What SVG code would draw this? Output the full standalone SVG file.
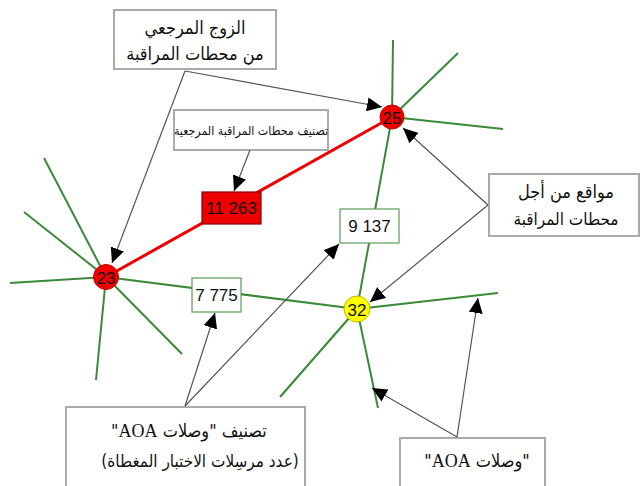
<svg xmlns="http://www.w3.org/2000/svg" width="641" height="486" viewBox="0 0 641 486">
<style>
.g{stroke:#3a8a3a;stroke-width:2;fill:none}
.r{stroke:#ee0000;stroke-width:3;fill:none}
.a{stroke:#555;stroke-width:1.2;fill:none;marker-end:url(#ah)}
.tb{fill:#fff;stroke:#aaa;stroke-width:2}
.nb{fill:#fff;stroke:#5a9a5a;stroke-width:1.2}
.ar{font-family:"DejaVu Sans Condensed","DejaVu Sans",serif;fill:#111;text-anchor:middle}
.lat{font-family:"Liberation Serif",serif}
.num{font-family:"Liberation Sans",Arial,sans-serif;fill:#111;text-anchor:middle}
</style>
<defs>
<marker id="ah" markerUnits="userSpaceOnUse" markerWidth="16" markerHeight="14" refX="15" refY="7" orient="auto">
<path d="M0,0 L15,7 L0,14 z" fill="#000"/>
</marker>
</defs>
<rect width="641" height="486" fill="#fff"/>
<g id="connectors">
<line class="g" x1="106" y1="277" x2="44" y2="158"/>
<line class="g" x1="106" y1="277" x2="24" y2="212"/>
<line class="g" x1="106" y1="277" x2="10" y2="283"/>
<line class="g" x1="106" y1="277" x2="96" y2="380"/>
<line class="g" x1="106" y1="277" x2="182" y2="354"/>
<line class="g" x1="106" y1="277" x2="357" y2="309"/>
<line class="g" x1="392" y1="117" x2="393" y2="40"/>
<line class="g" x1="392" y1="117" x2="458" y2="53"/>
<line class="g" x1="392" y1="117" x2="503" y2="129"/>
<line class="g" x1="392" y1="117" x2="357" y2="309"/>
<line class="g" x1="357" y1="309" x2="498" y2="293"/>
<line class="g" x1="357" y1="309" x2="280" y2="397"/>
<line class="g" x1="357" y1="309" x2="378" y2="408"/>
<line class="r" x1="106" y1="277" x2="392" y2="117"/>
</g>
<g id="n23"><circle cx="106" cy="277" r="12.5" fill="#ee0000" stroke="#cc0000"/><text class="num" x="106" y="283.5" font-size="17">23</text></g>
<g id="n25"><circle cx="392" cy="117" r="12" fill="#ee0000" stroke="#cc0000"/><text class="num" x="392" y="123.5" font-size="17">25</text></g>
<g id="n32"><circle cx="357" cy="309" r="13" fill="#ffff00" stroke="#bbbb00"/><text class="num" x="357" y="315.5" font-size="17">32</text></g>
<g id="b11263"><rect x="202" y="192" width="59" height="32" fill="#ee0000" stroke="#880000" stroke-width="1.2"/><text class="num" x="231.5" y="214" font-size="17">11 263</text></g>
<g id="b9137"><rect class="nb" x="340" y="209" width="59" height="34"/><text class="num" x="369.5" y="232" font-size="17">9 137</text></g>
<g id="b7775"><rect class="nb" x="192" y="278" width="49" height="34"/><text class="num" x="216.5" y="301" font-size="17">7 775</text></g>
<g id="lbl-pair"><rect class="tb" x="114" y="10" width="162" height="59"/>
<text class="ar" x="195" y="34" font-size="18" direction="rtl">الزوج المرجعي</text>
<text class="ar" x="195" y="60" font-size="18" direction="rtl">من محطات المراقبة</text></g>
<g id="lbl-class"><rect class="tb" x="174" y="110" width="154" height="40"/>
<text class="ar" x="251" y="135" font-size="12.3" direction="rtl">تصنيف محطات المراقبة المرجعية</text></g>
<g id="lbl-sites"><rect class="tb" x="489" y="174" width="150" height="62"/>
<text class="ar" x="566" y="198" font-size="18" direction="rtl">مواقع من أجل</text>
<text class="ar" x="566" y="225" font-size="17" direction="rtl">محطات المراقبة</text></g>
<g id="lbl-aoaclass"><rect class="tb" x="66" y="407" width="239" height="90"/>
<text class="ar" x="189" y="437" font-size="18" direction="rtl">تصنيف "وصلات <tspan class="lat">AOA</tspan>"</text>
<text class="ar" x="200" y="467" font-size="17" direction="rtl">(عدد مرسِلات الاختبار المغطاة)</text></g>
<g id="lbl-aoa"><rect class="tb" x="400" y="438" width="145" height="60"/>
<text class="ar" x="477" y="467" font-size="18" direction="rtl">"وصلات <tspan class="lat">AOA</tspan>"</text></g>
<g id="arrows">
<line class="a" x1="185" y1="71" x2="112" y2="263"/>
<line class="a" x1="185" y1="71" x2="382" y2="107"/>
<line class="a" x1="250" y1="150" x2="234" y2="191"/>
<line class="a" x1="488" y1="205" x2="403" y2="128"/>
<line class="a" x1="488" y1="205" x2="370" y2="302"/>
<line class="a" x1="185" y1="406" x2="215" y2="313"/>
<line class="a" x1="185" y1="406" x2="339" y2="244"/>
<line class="a" x1="457" y1="437" x2="372" y2="388"/>
<line class="a" x1="457" y1="437" x2="478" y2="298"/>
</g>
</svg>
